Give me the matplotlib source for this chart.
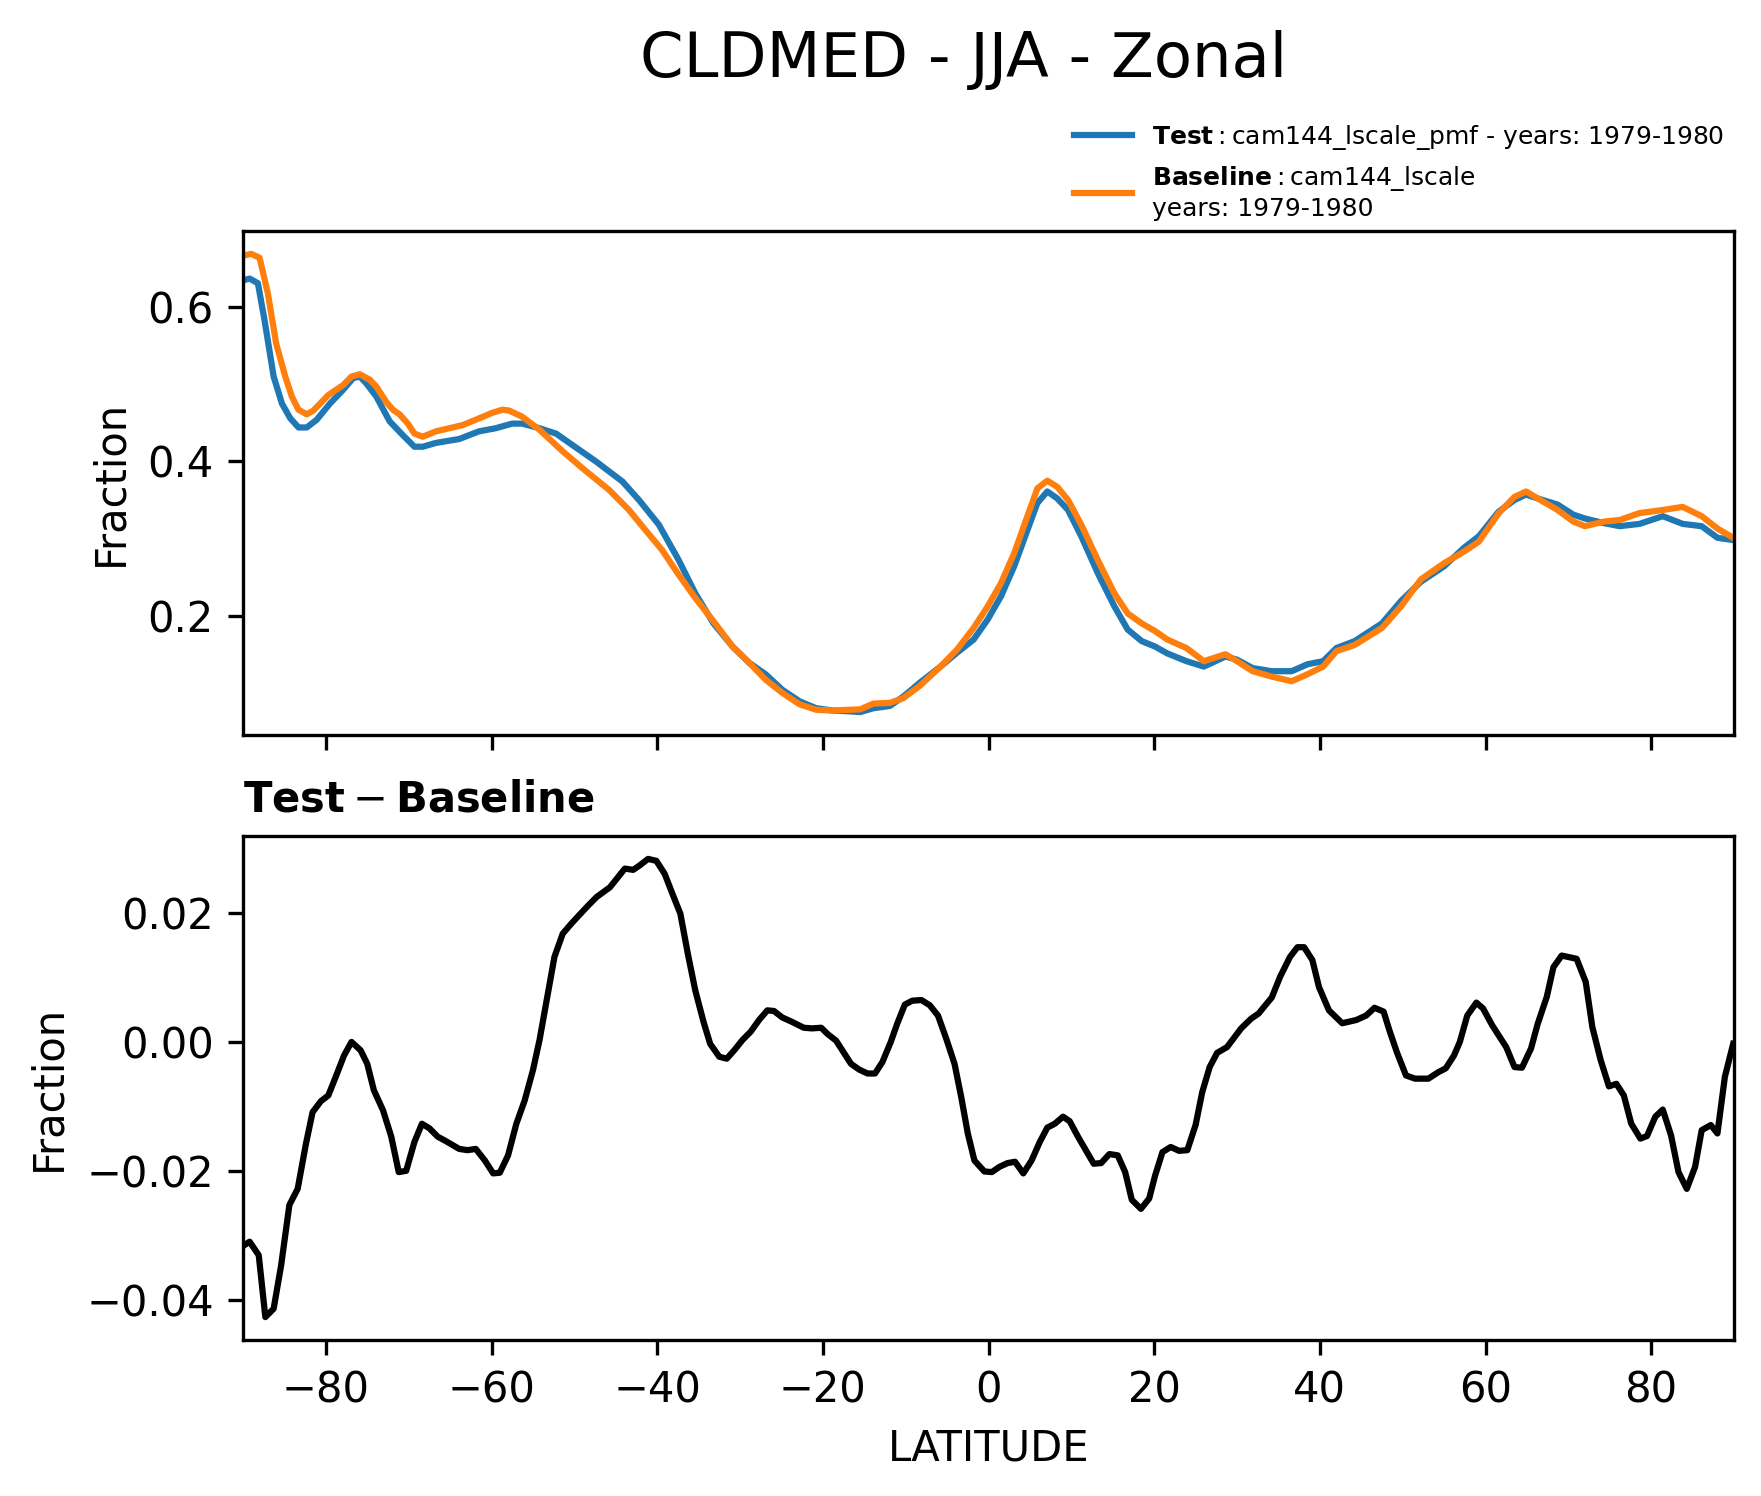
import matplotlib
matplotlib.use("Agg")
import matplotlib.pyplot as plt

# Test run (blue)
test_lat = [-89.9, -89.2, -88.2, -87.4, -86.3, -85.3, -84.3, -83.3, -82.3, -81.1,
            -79.5, -77.9, -76.7, -75.9, -75.1, -73.9, -72.3, -70.7, -69.3, -68.3,
            -66.7, -63.9, -61.5, -59.5, -57.5, -56.3, -54.2, -52.2, -49.4, -47.4,
            -44.2, -42.2, -39.8, -37.4, -35.4, -33.2, -30.9, -28.9, -26.9, -24.9,
            -22.8, -20.8, -18.8, -16.8, -15.5, -13.9, -11.9, -10.3, -8.3, -5.8,
            -3.8, -1.8, -0.1, 1.5, 3.1, 4.7, 5.9, 7.1, 8.3, 9.6,
            11.2, 13.2, 15.2, 16.8, 18.5, 20.1, 21.6, 23.9, 26.0, 28.6,
            30.0, 31.9, 34.2, 36.6, 38.5, 40.4, 42.0, 44.2, 47.5, 49.8,
            52.2, 55.0, 57.4, 59.2, 61.6, 63.5, 64.9, 66.3, 68.7, 70.6,
            72.0, 74.3, 76.2, 78.6, 81.4, 83.8, 86.1, 88.0, 89.9]
test_val = [0.635, 0.637, 0.631, 0.583, 0.510, 0.475, 0.456, 0.444, 0.444, 0.454,
            0.475, 0.493, 0.508, 0.510, 0.501, 0.484, 0.452, 0.434, 0.419, 0.419,
            0.424, 0.429, 0.439, 0.443, 0.449, 0.449, 0.443, 0.436, 0.415, 0.400,
            0.374, 0.350, 0.318, 0.272, 0.229, 0.190, 0.160, 0.139, 0.124, 0.104,
            0.089, 0.080, 0.077, 0.076, 0.075, 0.080, 0.083, 0.095, 0.113, 0.134,
            0.152, 0.169, 0.195, 0.225, 0.264, 0.311, 0.346, 0.361, 0.352, 0.337,
            0.303, 0.255, 0.212, 0.182, 0.167, 0.160, 0.151, 0.141, 0.134, 0.147,
            0.143, 0.132, 0.128, 0.128, 0.137, 0.141, 0.158, 0.167, 0.190, 0.219,
            0.244, 0.264, 0.288, 0.303, 0.335, 0.350, 0.357, 0.352, 0.344, 0.331,
            0.326, 0.320, 0.316, 0.319, 0.329, 0.319, 0.316, 0.301, 0.298]

# Baseline run (orange)
base_lat = [-89.9, -89.0, -88.0, -87.0, -86.0, -84.9, -84.1, -83.3, -82.3, -81.5,
            -79.7, -77.9, -76.9, -75.9, -74.7, -73.9, -72.7, -71.9, -71.1, -70.1,
            -69.3, -68.3, -66.7, -63.5, -61.9, -59.9, -58.7, -57.9, -56.3, -54.2,
            -51.4, -49.0, -45.8, -43.4, -41.8, -39.4, -37.4, -35.4, -33.0, -30.9,
            -28.9, -26.9, -24.9, -22.8, -20.8, -18.8, -16.8, -15.5, -13.9, -11.9,
            -10.3, -8.3, -5.8, -3.8, -1.8, -0.1, 1.5, 3.1, 4.7, 5.9,
            7.1, 8.3, 9.6, 11.2, 13.2, 15.2, 16.8, 18.5, 20.1, 21.6,
            23.9, 26.0, 28.6, 30.0, 31.9, 34.2, 36.6, 38.5, 40.4, 42.0,
            44.2, 47.5, 49.8, 52.2, 55.0, 57.4, 59.2, 61.6, 63.5, 64.9,
            66.3, 68.7, 70.6, 72.0, 74.3, 76.2, 78.6, 81.4, 83.8, 86.1,
            88.0, 89.9]
base_val = [0.667, 0.669, 0.664, 0.618, 0.553, 0.510, 0.484, 0.467, 0.461, 0.466,
            0.486, 0.499, 0.510, 0.513, 0.506, 0.497, 0.477, 0.467, 0.461, 0.449,
            0.436, 0.432, 0.439, 0.447, 0.454, 0.463, 0.467, 0.466, 0.458, 0.441,
            0.413, 0.391, 0.363, 0.337, 0.316, 0.285, 0.253, 0.223, 0.190, 0.160,
            0.139, 0.117, 0.100, 0.085, 0.078, 0.077, 0.078, 0.0785, 0.086, 0.087,
            0.093, 0.109, 0.134, 0.156, 0.184, 0.212, 0.242, 0.281, 0.329, 0.365,
            0.375, 0.367, 0.350, 0.318, 0.272, 0.229, 0.203, 0.190, 0.180, 0.169,
            0.158, 0.141, 0.150, 0.141, 0.128, 0.121, 0.115, 0.124, 0.134, 0.154,
            0.162, 0.184, 0.212, 0.247, 0.268, 0.283, 0.296, 0.333, 0.354, 0.361,
            0.352, 0.337, 0.322, 0.316, 0.322, 0.324, 0.333, 0.337, 0.341, 0.329,
            0.313, 0.301]

# Test - Baseline
diff_lat = [-89.9, -89.2, -88.1, -87.3, -86.3, -85.4, -84.4, -83.4, -82.4, -81.6,
            -80.6, -79.7, -78.8, -77.8, -76.9, -75.8, -75.0, -74.2, -73.1, -72.1,
            -71.2, -70.3, -69.3, -68.4, -67.5, -66.5, -65.5, -63.9, -62.9, -61.9,
            -60.8, -59.8, -59.0, -58.0, -57.0, -56.0, -55.0, -54.2, -53.2, -52.4,
            -51.4, -50.4, -49.4, -48.3, -47.3, -45.7, -44.9, -43.9, -42.9, -42.1,
            -41.1, -40.1, -39.1, -38.1, -37.2, -36.3, -35.4, -34.4, -33.6, -32.5,
            -31.6, -30.7, -29.7, -28.7, -27.7, -26.7, -25.9, -24.9, -23.7, -22.3,
            -21.3, -20.2, -19.4, -18.4, -17.4, -16.6, -15.6, -14.6, -13.7, -12.8,
            -11.8, -11.0, -10.1, -9.2, -8.1, -7.1, -6.1, -5.1, -4.1, -3.3,
            -2.5, -1.7, -0.5, 0.4, 1.3, 2.3, 3.2, 4.2, 5.2, 6.2,
            7.1, 8.0, 9.0, 9.8, 10.8, 11.8, 12.7, 13.6, 14.6, 15.6,
            16.5, 17.3, 18.4, 19.4, 20.1, 21.0, 22.0, 23.0, 24.0, 25.0,
            25.8, 26.7, 27.6, 28.8, 30.5, 31.7, 32.6, 34.2, 35.2, 36.4,
            37.3, 38.1, 39.1, 39.9, 41.1, 42.7, 44.4, 45.6, 46.6, 47.7,
            48.4, 49.3, 50.4, 51.5, 53.1, 54.3, 55.2, 56.2, 56.9, 57.8,
            58.9, 59.7, 60.8, 61.7, 62.5, 63.5, 64.4, 65.5, 66.3, 67.4,
            68.2, 69.2, 71.0, 72.1, 72.9, 73.9, 74.9, 75.8, 76.7, 77.6,
            78.7, 79.5, 80.5, 81.4, 82.4, 83.3, 84.3, 85.3, 86.1, 87.2,
            88.0, 88.9, 89.9]
diff_val = [-0.0316, -0.0310, -0.0331, -0.0427, -0.0414, -0.0347, -0.0253, -0.0228, -0.0158, -0.0109,
            -0.0092, -0.0083, -0.0054, -0.0021, 0.0000, -0.0013, -0.0034, -0.0075, -0.0106, -0.0147,
            -0.0202, -0.0200, -0.0155, -0.0127, -0.0134, -0.0147, -0.0154, -0.0166, -0.0168, -0.0166,
            -0.0184, -0.0204, -0.0203, -0.0176, -0.0127, -0.0091, -0.0044, 0.0003, 0.0075, 0.0132,
            0.0168, 0.0183, 0.0197, 0.0212, 0.0225, 0.0240, 0.0253, 0.0269, 0.0267, 0.0274,
            0.0284, 0.0281, 0.0261, 0.0228, 0.0199, 0.0137, 0.0080, 0.0031, -0.0003, -0.0023,
            -0.0026, -0.0013, 0.0003, 0.0016, 0.0034, 0.0049, 0.0048, 0.0038, 0.0031, 0.0022,
            0.0021, 0.0022, 0.0012, 0.0002, -0.0018, -0.0034, -0.0043, -0.0049, -0.0049, -0.0031,
            0.0000, 0.0029, 0.0058, 0.0064, 0.0065, 0.0057, 0.0041, 0.0005, -0.0034, -0.0085,
            -0.0142, -0.0184, -0.0201, -0.0202, -0.0194, -0.0188, -0.0186, -0.0204, -0.0184, -0.0155,
            -0.0133, -0.0127, -0.0116, -0.0123, -0.0147, -0.0169, -0.0189, -0.0188, -0.0174, -0.0176,
            -0.0202, -0.0245, -0.0259, -0.0243, -0.0208, -0.0171, -0.0163, -0.0169, -0.0168, -0.0129,
            -0.0078, -0.0039, -0.0017, -0.0008, 0.0021, 0.0036, 0.0044, 0.0069, 0.0101, 0.0132,
            0.0147, 0.0147, 0.0127, 0.0085, 0.0049, 0.0029, 0.0034, 0.0041, 0.0053, 0.0047,
            0.0018, -0.0016, -0.0052, -0.0057, -0.0057, -0.0047, -0.0041, -0.0021, 0.0000, 0.0041,
            0.0061, 0.0052, 0.0026, 0.0008, -0.0008, -0.0039, -0.0040, -0.0010, 0.0028, 0.0070,
            0.0116, 0.0134, 0.0129, 0.0093, 0.0023, -0.0028, -0.0069, -0.0065, -0.0083, -0.0127,
            -0.0150, -0.0146, -0.0116, -0.0105, -0.0145, -0.0202, -0.0228, -0.0194, -0.0137, -0.0129,
            -0.0142, -0.0054, -0.0003]

test_label = "$\\mathbf{Test}:$cam144_lscale_pmf - years: 1979-1980"
base_label = "$\\mathbf{Baseline}:$cam144_lscale\nyears: 1979-1980"

W, H = 1761, 1496
fig = plt.figure(figsize=(W / 300, H / 300), dpi=300)

# axes placed in pixel units of the reference
ax1 = fig.add_axes([243 / W, 1 - 735 / H, 1491 / W, 504 / H])
ax2 = fig.add_axes([243 / W, 1 - 1340 / H, 1491 / W, 504 / H], sharex=ax1)

ax1.plot(test_lat, test_val, color="C0", lw=1.5, label=test_label)
ax1.plot(base_lat, base_val, color="C1", lw=1.5, label=base_label)
ax1.set_ylabel("Fraction", fontsize=10)
ax1.tick_params(labelbottom=False, labelsize=10)
ax1.legend(loc="lower right", bbox_to_anchor=(1.0, 1.0), borderaxespad=0,
           frameon=False, fontsize=6, handlelength=2.3)

ax2.plot(diff_lat, diff_val, color="k", lw=1.5)
ax2.set_title("$\\mathbf{Test} - \\mathbf{Baseline}$", loc="left", fontsize=10)
ax2.set_ylabel("Fraction", fontsize=10)
ax2.set_xlabel("LATITUDE", fontsize=10)
ax2.tick_params(labelsize=10)

ax1.set_xlim(-90, 90)
ax1.set_xticks([-80, -60, -40, -20, 0, 20, 40, 60, 80])

fig.text(964 / W, 1 - 77 / H, "CLDMED - JJA - Zonal", fontsize=15,
         ha="center", va="baseline")

fig.savefig("out.png", dpi=300)
